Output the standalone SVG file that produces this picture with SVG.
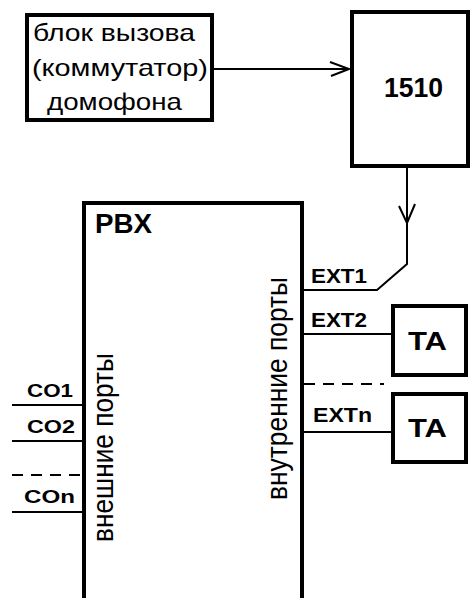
<svg xmlns="http://www.w3.org/2000/svg" width="472" height="598" viewBox="0 0 472 598">
<style>
.box{fill:#fff;stroke:#000;stroke-width:4}
.ln{fill:none;stroke:#000;stroke-width:2}
.dash{fill:none;stroke:#000;stroke-width:2;stroke-dasharray:11 8}
.t{font-family:"Liberation Sans",Arial,sans-serif;fill:#000}
.b{font-family:"Liberation Sans",Arial,sans-serif;font-weight:bold;fill:#000}
</style>
<rect width="472" height="598" fill="#fff"/>
<g id="connectors">
<line class="ln" x1="213" y1="69" x2="349" y2="69"/>
<polyline class="ln" points="330,62 349,69 331,76"/>
<polyline class="ln" points="407,168 407,264 377,290 303,290"/>
<polyline class="ln" points="399,206 407,223 415,204"/>
<line class="ln" x1="303" y1="334" x2="391" y2="334"/>
<line class="dash" x1="304" y1="384" x2="384" y2="384"/>
<line class="ln" x1="303" y1="432" x2="391" y2="432"/>
<line class="ln" x1="12" y1="405" x2="83" y2="405"/>
<line class="ln" x1="12" y1="441" x2="83" y2="441"/>
<line class="dash" x1="12" y1="475" x2="83" y2="475"/>
<line class="ln" x1="12" y1="512" x2="83" y2="512"/>
</g>
<g id="intercom">
<rect class="box" x="27" y="15" width="185" height="105"/>
<text class="t" x="33" y="41" font-size="24" textLength="162" lengthAdjust="spacingAndGlyphs">блок вызова</text>
<text class="t" x="32" y="76" font-size="24" textLength="176" lengthAdjust="spacingAndGlyphs">(коммутатор)</text>
<text class="t" x="47" y="110" font-size="24" textLength="135" lengthAdjust="spacingAndGlyphs">домофона</text>
</g>
<g id="dev1510">
<rect class="box" x="352" y="12" width="116" height="154"/>
<text class="b" x="384" y="97" font-size="28" textLength="59" lengthAdjust="spacingAndGlyphs">1510</text>
</g>
<g id="pbx">
<path class="box" d="M84,620 V203 H302 V620" fill="none"/>
<text class="b" x="95" y="233" font-size="27" textLength="57" lengthAdjust="spacingAndGlyphs">PBX</text>
<text class="t" transform="translate(113,542) rotate(-90)" font-size="29" textLength="189" lengthAdjust="spacingAndGlyphs">внешние порты</text>
<text class="t" transform="translate(287,500) rotate(-90)" font-size="29" textLength="223" lengthAdjust="spacingAndGlyphs">внутренние порты</text>
<text class="b" x="311" y="283" font-size="21" textLength="56" lengthAdjust="spacingAndGlyphs">EXT1</text>
<text class="b" x="311" y="327" font-size="21" textLength="56" lengthAdjust="spacingAndGlyphs">EXT2</text>
<text class="b" x="313" y="422" font-size="21" textLength="59" lengthAdjust="spacingAndGlyphs">EXTn</text>
<text class="b" x="27" y="397" font-size="19" textLength="46" lengthAdjust="spacingAndGlyphs">CO1</text>
<text class="b" x="27" y="433" font-size="19" textLength="48" lengthAdjust="spacingAndGlyphs">CO2</text>
<text class="b" x="24" y="503" font-size="19" textLength="51" lengthAdjust="spacingAndGlyphs">COn</text>
</g>
<g id="ta1">
<rect class="box" x="393" y="306" width="73" height="69"/>
<text class="b" x="408" y="350" font-size="25" textLength="39" lengthAdjust="spacingAndGlyphs">TA</text>
</g>
<g id="ta2">
<rect class="box" x="393" y="394" width="73" height="68"/>
<text class="b" x="408" y="437" font-size="25" textLength="39" lengthAdjust="spacingAndGlyphs">TA</text>
</g>
</svg>
